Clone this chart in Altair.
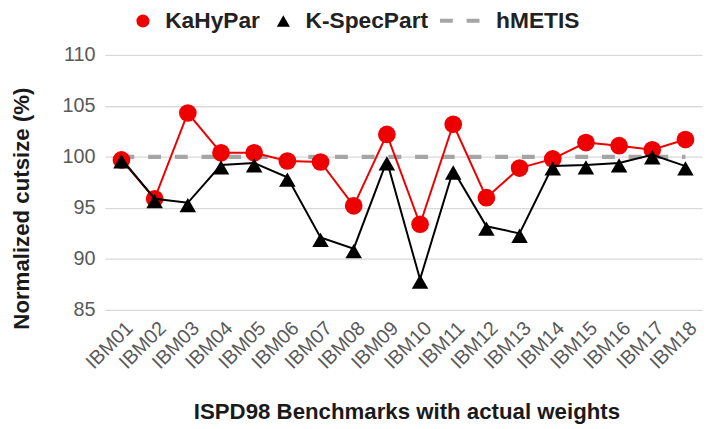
import altair as alt
import pandas as pd

benchmarks = ["IBM01", "IBM02", "IBM03", "IBM04", "IBM05", "IBM06", "IBM07", "IBM08", "IBM09",
              "IBM10", "IBM11", "IBM12", "IBM13", "IBM14", "IBM15", "IBM16", "IBM17", "IBM18"]
kahypar = [99.7, 95.9, 104.3, 100.4, 100.4, 99.6, 99.5, 95.2, 102.2,
           93.4, 103.2, 96.0, 98.9, 99.8, 101.4, 101.1, 100.7, 101.7]
kspecpart = [99.8, 95.9, 95.5, 99.2, 99.4, 98.0, 92.1, 91.0, 99.6,
             88.0, 98.7, 93.2, 92.5, 99.1, 99.2, 99.4, 100.2, 99.1]
hmetis = [100.0, 100.0, 100.0, 100.0, 100.0, 100.0, 100.0, 100.0, 100.0,
          100.0, 100.0, 100.0, 100.0, 100.0, 100.0, 100.0, 100.0, 100.0]
y_ticks = [85, 90, 95, 100, 105, 110]

rows = []
for name, vals in [("KaHyPar", kahypar), ("K-SpecPart", kspecpart), ("hMETIS", hmetis)]:
    for b, v in zip(benchmarks, vals):
        rows.append({"benchmark": b, "series": name, "value": v})
df = pd.DataFrame(rows)

FONT = "Liberation Sans"
RED = "#ee0000"
BLACK = "#000000"
GRAY = "#a5a5a5"
W, H = 604, 258

x_enc = alt.X(
    "benchmark:N", sort=benchmarks,
    scale=alt.Scale(type="point", padding=0.5),
    axis=alt.Axis(
        title="ISPD98 Benchmarks with actual weights",
        titleFont=FONT, titleFontSize=22.5, titleFontWeight="bold", titleColor="#1a1a1a",
        titleX=W / 2 + 3, titleY=109.5, titleBaseline="alphabetic", titleAlign="center",
        labelAngle=315, labelAlign="right", labelBaseline="top",
        labelOffset=1, labelPadding=8,
        labelFont=FONT, labelFontSize=20, labelColor="#595959",
        ticks=False, domain=False, grid=False,
    ),
)
y_enc = alt.Y(
    "value:Q",
    scale=alt.Scale(domain=[85, 110], nice=False, zero=False),
    axis=alt.Axis(
        values=y_ticks,
        title="Normalized cutsize (%)",
        titleFont=FONT, titleFontSize=22.5, titleFontWeight="bold", titleColor="#1a1a1a",
        titleAngle=270, titleX=-77, titleY=155, titleBaseline="alphabetic", titleAlign="center",
        labelFont=FONT, labelFontSize=20, labelColor="#595959", labelPadding=10,
        ticks=False, domain=False, grid=True, gridColor="#d9d9d9", gridWidth=1.3,
    ),
)

pt_legend = alt.Legend(
    orient="none", legendX=27, legendY=-46, direction="horizontal", title=None,
    labelFont=FONT, labelFontSize=23, labelFontWeight="bold", labelColor="#222222",
    symbolSize=175, labelOffset=11, columnPadding=12, padding=0,
    symbolOpacity=1, symbolStrokeWidth=0,
)
color_enc = alt.Color("series:N", scale=alt.Scale(domain=["KaHyPar", "K-SpecPart"], range=[RED, BLACK]),
                      legend=pt_legend)
shape_enc = alt.Shape("series:N", scale=alt.Scale(domain=["KaHyPar", "K-SpecPart"], range=["circle", "triangle-up"]),
                      legend=pt_legend)

base = alt.Chart(df)

hmetis_line = base.transform_filter(alt.datum.series == "hMETIS").mark_line(
    color=GRAY, strokeWidth=4.5
).encode(
    x=x_enc, y=y_enc,
    strokeDash=alt.StrokeDash(
        "series:N", scale=alt.Scale(domain=["hMETIS"], range=[[13, 14]]),
        legend=alt.Legend(
            orient="none", legendX=336.7, legendY=-57, direction="horizontal", title=None,
            labelFont=FONT, labelFontSize=23, labelFontWeight="bold", labelColor="#222222",
            symbolType="stroke", symbolSize=1650, symbolStrokeWidth=4, symbolStrokeColor=GRAY,
            labelOffset=14, padding=0,
        ),
    ),
)

kahypar_line = base.transform_filter(alt.datum.series == "KaHyPar").mark_line(
    color=RED, strokeWidth=2
).encode(x=x_enc, y=y_enc)

kahypar_pts = base.transform_filter(alt.datum.series == "KaHyPar").mark_point(
    filled=True, size=320, opacity=1
).encode(x=x_enc, y=y_enc, color=color_enc, shape=shape_enc)

kspec_line = base.transform_filter(alt.datum.series == "K-SpecPart").mark_line(
    color=BLACK, strokeWidth=2
).encode(x=x_enc, y=y_enc)

kspec_pts = base.transform_filter(alt.datum.series == "K-SpecPart").mark_point(
    filled=True, size=280, opacity=1, yOffset=2.4
).encode(x=x_enc, y=y_enc, color=color_enc, shape=shape_enc)

chart = alt.layer(
    hmetis_line, kahypar_line, kahypar_pts, kspec_line, kspec_pts
).properties(
    width=W, height=H,
    autosize=alt.AutoSizeParams(type="none"),
    padding={"left": 98, "top": 45, "right": 3, "bottom": 115},
    background="white",
).configure_view(stroke=None)

chart.save("out.html", embed_options={"renderer": "svg", "actions": False})
